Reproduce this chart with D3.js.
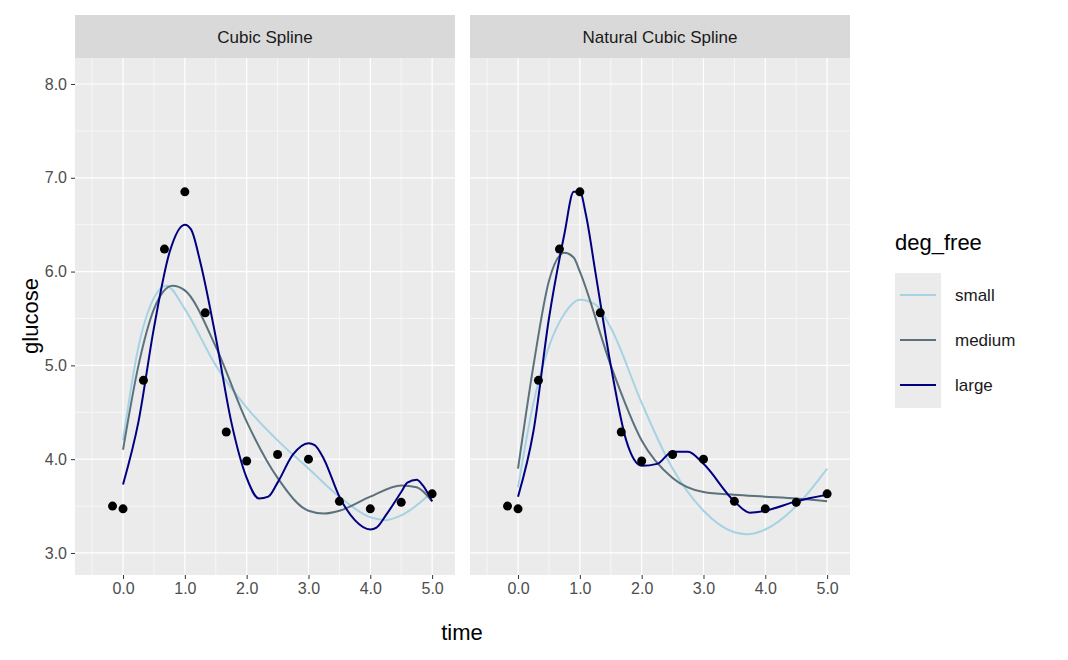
<!DOCTYPE html>
<html><head><meta charset="utf-8">
<script src="https://cdn.jsdelivr.net/npm/d3@7"></script>
<style>body{margin:0;background:#fff}text{font-family:Arial,"Liberation Sans",sans-serif}</style>
</head><body><svg id="c" width="1068" height="660"></svg>
<script>
const pointsX=[-0.17,0,0.33,0.67,1,1.33,1.67,2,2.5,3,3.5,4,4.5,5];
const pointsY=[3.5,3.47,4.84,6.24,6.85,5.56,4.29,3.98,4.05,4.0,3.55,3.47,3.54,3.63];
const panels=['Cubic Spline','Natural Cubic Spline'];
const series=['small','medium','large'];
const colors={small:'#a6d3e3',medium:'#5b727d',large:'#000080'};
const cs_small=[[0,4.2],[0.25,5.2],[0.5,5.72],[0.7,5.85],[1,5.6],[1.5,5.0],[2,4.55],[2.5,4.2],[3,3.9],[3.5,3.6],[4,3.38],[4.25,3.35],[4.5,3.4],[5,3.65]];
const cs_medium=[[0,4.1],[0.25,5.0],[0.5,5.6],[0.8,5.85],[1,5.8],[1.5,5.2],[2,4.4],[2.5,3.8],[3,3.45],[3.25,3.42],[3.5,3.45],[4,3.6],[4.5,3.72],[4.75,3.7],[5,3.55]];
const cs_large=[[0,3.73],[0.25,4.4],[0.5,5.4],[0.75,6.2],[1,6.5],[1.1,6.45],[1.25,6.1],[1.5,5.3],[1.75,4.4],[2,3.8],[2.2,3.58],[2.35,3.6],[2.5,3.75],[2.75,4.05],[3,4.17],[3.1,4.15],[3.25,4.0],[3.5,3.6],[3.75,3.35],[4,3.25],[4.1,3.27],[4.25,3.4],[4.5,3.65],[4.6,3.75],[4.75,3.78],[4.85,3.72],[5,3.55]];
const ns_small=[[0,3.7],[0.25,4.6],[0.5,5.2],[0.75,5.55],[1,5.7],[1.25,5.65],[1.5,5.4],[2,4.6],[2.5,3.9],[3,3.45],[3.5,3.22],[3.7,3.2],[4,3.25],[4.5,3.5],[5,3.9]];
const ns_medium=[[0,3.9],[0.25,5.0],[0.5,5.9],[0.75,6.2],[0.9,6.15],[1,6.0],[1.5,5.0],[2,4.2],[2.5,3.8],[3,3.65],[3.5,3.62],[4,3.6],[4.5,3.58],[5,3.55]];
const ns_large=[[0,3.6],[0.25,4.3],[0.5,5.5],[0.75,6.4],[0.9,6.85],[1,6.85],[1.1,6.6],[1.25,6.0],[1.5,5.0],[1.75,4.2],[2,3.93],[2.25,3.95],[2.5,4.08],[2.75,4.08],[3,3.95],[3.5,3.55],[3.75,3.43],[4,3.45],[4.5,3.55],[5,3.62]];
const curves=[{small:cs_small,medium:cs_medium,large:cs_large},{small:ns_small,medium:ns_medium,large:ns_large}];
const xTicks=[0,1,2,3,4,5], yTicks=[3,4,5,6,7,8];

const svg=d3.select('#c');
const pTop=58,pBot=575,pw=380,lefts=[75,470];
const y=d3.scaleLinear().domain([2.765,8.277]).range([pBot,pTop]);
panels.forEach((name,i)=>{
  const x=d3.scaleLinear().domain([-0.777,5.37]).range([lefts[i],lefts[i]+pw]);
  const g=svg.append('g');
  g.append('rect').attr('x',lefts[i]).attr('y',15).attr('width',pw).attr('height',pTop-15).attr('fill','#d9d9d9');
  g.append('text').attr('x',lefts[i]+pw/2).attr('y',43).attr('text-anchor','middle').attr('font-size',17).attr('fill','#1a1a1a').text(name);
  g.append('rect').attr('x',lefts[i]).attr('y',pTop).attr('width',pw).attr('height',pBot-pTop).attr('fill','#ebebeb');
  d3.range(-0.5,5.6,1).forEach(v=>g.append('line').attr('x1',x(v)).attr('x2',x(v)).attr('y1',pTop).attr('y2',pBot).attr('stroke','#fff').attr('stroke-width',0.6));
  d3.range(3.5,8.1,1).forEach(v=>g.append('line').attr('y1',y(v)).attr('y2',y(v)).attr('x1',lefts[i]).attr('x2',lefts[i]+pw).attr('stroke','#fff').attr('stroke-width',0.6));
  xTicks.forEach(v=>g.append('line').attr('x1',x(v)).attr('x2',x(v)).attr('y1',pTop).attr('y2',pBot).attr('stroke','#fff').attr('stroke-width',1.2));
  yTicks.forEach(v=>g.append('line').attr('y1',y(v)).attr('y2',y(v)).attr('x1',lefts[i]).attr('x2',lefts[i]+pw).attr('stroke','#fff').attr('stroke-width',1.2));
  const xa=g.append('g').attr('transform',`translate(0,${pBot})`).call(d3.axisBottom(x).tickValues(xTicks).tickSize(4).tickPadding(4));
  xa.select('.domain').remove();
  xa.selectAll('line').attr('stroke','#333');
  xa.selectAll('text').attr('font-size',16).attr('fill','#4d4d4d').style('font-family','Arial,"Liberation Sans",sans-serif');
  const line=d3.line().x(d=>x(d[0])).y(d=>y(d[1])).curve(d3.curveMonotoneX);
  series.forEach(s=>g.append('path').attr('d',line(curves[i][s])).attr('fill','none').attr('stroke',colors[s]).attr('stroke-width',2));
  g.selectAll('circle.p').data(pointsX).join('circle').attr('cx',d=>x(d)).attr('cy',(d,j)=>y(pointsY[j])).attr('r',4.5).attr('fill','#000');
});
const ya=svg.append('g').attr('transform',`translate(${lefts[0]},0)`).call(d3.axisLeft(y).tickValues(yTicks).tickSize(4).tickPadding(4));
ya.select('.domain').remove();
ya.selectAll('line').attr('stroke','#333');
ya.selectAll('text').attr('font-size',16).attr('fill','#4d4d4d').style('font-family','Arial,"Liberation Sans",sans-serif');
svg.append('text').attr('x',462).attr('y',640).attr('text-anchor','middle').attr('font-size',22).text('time');
svg.append('text').attr('transform','translate(38,316) rotate(-90)').attr('text-anchor','middle').attr('font-size',22).text('glucose');
// legend
svg.append('text').attr('x',895).attr('y',250).attr('font-size',22).text('deg_free');
series.forEach((s,k)=>{
  const cy=295+k*45;
  svg.append('rect').attr('x',895).attr('y',cy-22).attr('width',46).attr('height',45).attr('fill','#ebebeb');
  svg.append('line').attr('x1',900).attr('x2',936).attr('y1',cy).attr('y2',cy).attr('stroke',colors[s]).attr('stroke-width',2);
  svg.append('text').attr('x',955).attr('y',cy+6).attr('font-size',17).attr('fill','#1a1a1a').text(s);
});
</script></body></html>
